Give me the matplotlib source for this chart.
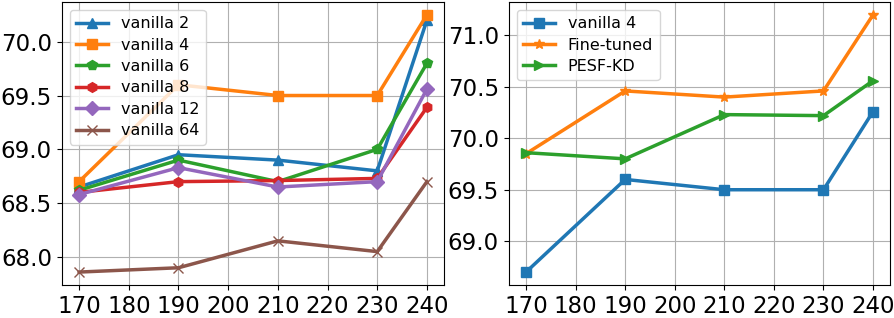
import matplotlib
matplotlib.use("Agg")
import matplotlib.pyplot as plt

x = [170, 190, 210, 230, 240]

v2 = [68.65, 68.95, 68.90, 68.80, 70.20]
v4 = [68.70, 69.60, 69.50, 69.50, 70.25]
v6 = [68.62, 68.90, 68.70, 69.00, 69.80]
v8 = [68.60, 68.70, 68.71, 68.73, 69.39]
v12 = [68.58, 68.83, 68.65, 68.70, 69.56]
v64 = [67.86, 67.90, 68.15, 68.05, 68.70]

r_v4 = [68.70, 69.60, 69.50, 69.50, 70.26]
r_ft = [69.85, 70.46, 70.40, 70.46, 71.20]
r_pesf = [69.86, 69.80, 70.23, 70.22, 70.56]

fig = plt.figure(figsize=(8.94, 3.18), dpi=100)
ax1 = fig.add_axes([0.069, 0.104, 0.428, 0.890])
ax2 = fig.add_axes([0.569, 0.104, 0.427, 0.890])

lw = 2.5
ms = 7
ax1.plot(x, v2, marker='^', lw=lw, ms=ms, label='vanilla 2', color='C0')
ax1.plot(x, v4, marker='s', lw=lw, ms=ms, label='vanilla 4', color='C1')
ax1.plot(x, v6, marker='p', lw=lw, ms=ms, label='vanilla 6', color='C2')
ax1.plot(x, v8, marker='h', lw=lw, ms=ms, label='vanilla 8', color='C3')
ax1.plot(x, v12, marker='D', lw=lw, ms=ms, label='vanilla 12', color='C4')
ax1.plot(x, v64, marker='x', lw=lw, ms=ms, label='vanilla 64', color='C5')

ax2.plot(x, r_v4, marker='s', lw=lw, ms=ms, label='vanilla 4', color='C0')
ax2.plot(x, r_ft, marker='*', lw=lw, ms=ms, label='Fine-tuned', color='C1')
ax2.plot(x, r_pesf, marker='>', lw=lw, ms=ms, label='PESF-KD', color='C2')

for ax in (ax1, ax2):
    ax.grid(True)
    ax.set_xticks([170, 180, 190, 200, 210, 220, 230, 240])
    ax.tick_params(labelsize=16.5)
    ax.legend(loc='upper left', fontsize=11.5, labelspacing=0.4)

ax1.set_yticks([68.0, 68.5, 69.0, 69.5, 70.0])
ax2.set_yticks([69.0, 69.5, 70.0, 70.5, 71.0])

fig.savefig("out.png", dpi=100)
